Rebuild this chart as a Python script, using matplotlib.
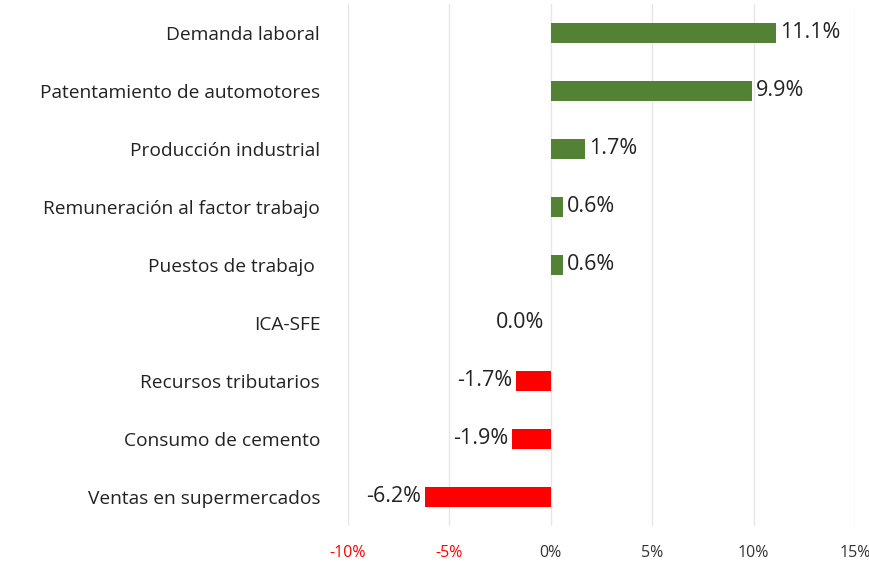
import matplotlib
matplotlib.use("Agg")
import matplotlib.pyplot as plt

categories = ["Demanda laboral", "Patentamiento de automotores", "Producción industrial",
              "Remuneración al factor trabajo", "Puestos de trabajo ", "ICA-SFE",
              "Recursos tributarios", "Consumo de cemento", "Ventas en supermercados"]
values = [11.1, 9.9, 1.7, 0.6, 0.6, 0.0, -1.7, -1.9, -6.2]
ticks = [-10, -5, 0, 5, 10, 15]

plt.rcParams['font.family'] = ['Open Sans', 'DejaVu Sans']
fig = plt.figure(figsize=(8.7, 5.8), dpi=100)
ax = fig.add_axes([348/870, 1-526/580, (855-348)/870, (526-4)/580])
y = list(range(len(categories)))
colors = ['#548235' if v > 0 else '#ff0000' for v in values]
ax.barh(y, values, height=0.35, color=colors, zorder=3)
ax.set_xlim(-10, 15)
ax.set_ylim(len(categories)-0.5, -0.5)
ax.set_xticks(ticks)
ax.set_xticklabels([f"{t}%" for t in ticks], fontsize=11.5)
for lbl, t in zip(ax.get_xticklabels(), ticks):
    lbl.set_color('#ff0000' if t < 0 else '#333333')
ax.set_yticks(y)
ax.set_yticklabels(categories, fontsize=13.8, color='#222222')
ax.tick_params(length=0, pad=20)
ax.tick_params(axis='x', pad=14)
ax.grid(axis='x', color='#e6e6e6', lw=1, zorder=0)
for s in ax.spines.values():
    s.set_visible(False)
for yi, v in zip(y, values):
    txt = f"{v:.1f}%"
    kw = dict(va='center', fontsize=15.5, color='#222222')
    if v > 0:
        ax.text(v + 0.2, yi, txt, ha='left', **kw)
    elif v < 0:
        ax.text(v - 0.2, yi, txt, ha='right', **kw)
    else:
        ax.text(-0.3, yi, txt, ha='right', **kw)
fig.savefig("out.png", dpi=100)
